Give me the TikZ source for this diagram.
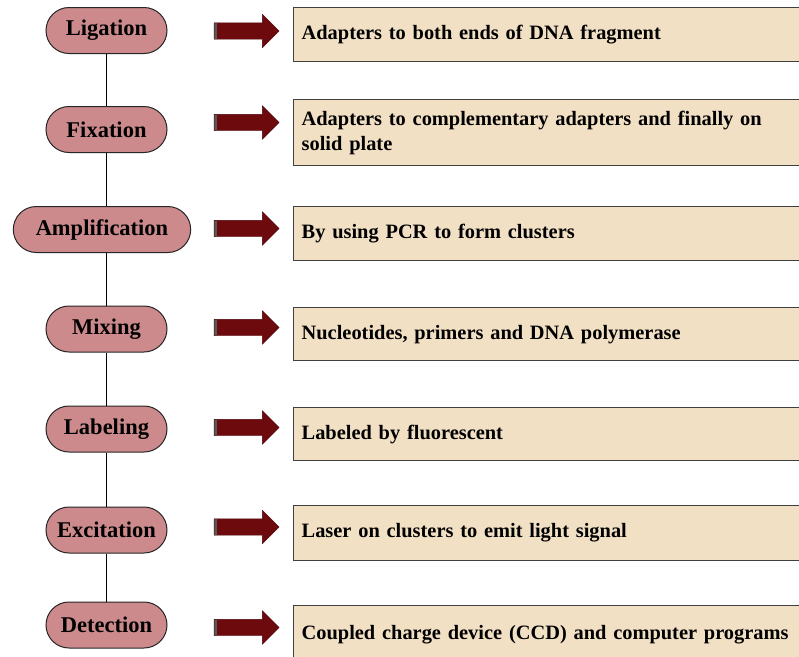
\documentclass[tikz,border=0pt]{standalone}
\usepackage{fontspec}
\setmainfont{Liberation Serif}
\usepackage{xcolor}
\usetikzlibrary{shapes.misc,shapes.arrows,positioning}

\definecolor{pillrose}{HTML}{CC8A8C}
\definecolor{notebeige}{HTML}{F2E0C5}
\definecolor{arrowred}{HTML}{6C0A0E}

\begin{document}
\begin{tikzpicture}[
    x=1pt, y=-1pt,
    stage/.style={draw=black!85, line width=1pt, rounded rectangle, fill=pillrose,
        minimum width=161pt, minimum height=46pt, inner xsep=20pt,
        font=\fontsize{22.5}{26}\selectfont\bfseries},
    note/.style={draw=black!75, line width=1.3pt, fill=notebeige, anchor=north west,
        text width=600pt, align=left, inner xsep=8pt,
        font=\fontsize{20.4}{25}\selectfont\bfseries},
    blockarrow/.style={single arrow, fill=arrowred, draw=arrowred!70!black, line width=0.4pt,
        minimum height=65pt, inner sep=0pt, text height=16pt, text depth=0pt, text width=0pt,
        single arrow head extend=8.5pt,
        path picture={\fill[black!65] (path picture bounding box.south west) rectangle ++(3pt,40pt);}},
    link/.style={line width=1.1pt, black}
]
    \useasboundingbox (0,0) rectangle (799,656);
    \clip (0,0) rectangle (799,656);

    % Steps
    \node[stage] (lig) at (106.5,30.5) {Ligation};
    \node[stage] (fix) at (106.5,129.5) {Fixation};
    \node[stage] (amp) at (102,229.5) {Amplification};
    \node[stage] (mix) at (106.5,329) {Mixing};
    \node[stage] (lab) at (106.5,429) {Labeling};
    \node[stage] (exc) at (106.5,530) {Excitation};
    \node[stage] (det) at (106.5,625) {Detection};

    % Descriptions
    \node[note, minimum height=54pt] (ligtxt) at (293,7) {Adapters to both ends of DNA fragment};
    \node[note, minimum height=66pt] (fixtxt) at (293,99) {Adapters to complementary adapters and finally on\\solid plate};
    \node[note, minimum height=54pt] (amptxt) at (293,206) {By using PCR to form clusters};
    \node[note, minimum height=53pt] (mixtxt) at (293,307) {Nucleotides, primers and DNA polymerase};
    \node[note, minimum height=53pt] (labtxt) at (293,407) {Labeled by fluorescent};
    \node[note, minimum height=55pt] (exctxt) at (293,505) {Laser on clusters to emit light signal};
    \node[note, minimum height=58pt] (dettxt) at (293,605) {Coupled charge device (CCD) and computer programs};

    % Block arrows
    \node[blockarrow] (ligarr) at (242.5,31) {};
    \node[blockarrow] (fixarr) at (242.5,122.5) {};
    \node[blockarrow] (amparr) at (242.5,228.5) {};
    \node[blockarrow] (mixarr) at (242.5,327.5) {};
    \node[blockarrow] (labarr) at (242.5,427.5) {};
    \node[blockarrow] (excarr) at (242.5,527) {};
    \node[blockarrow] (detarr) at (242.5,627.5) {};

    % Links between steps
    \draw[link] (lig.south) -- (fix.north);
    \draw[link] (fix.south) -- (fix.south |- amp.north);
    \draw[link] (fix.south |- amp.south) -- (mix.north);
    \draw[link] (mix.south) -- (lab.north);
    \draw[link] (lab.south) -- (exc.north);
    \draw[link] (exc.south) -- (det.north);

\end{tikzpicture}
\end{document}
